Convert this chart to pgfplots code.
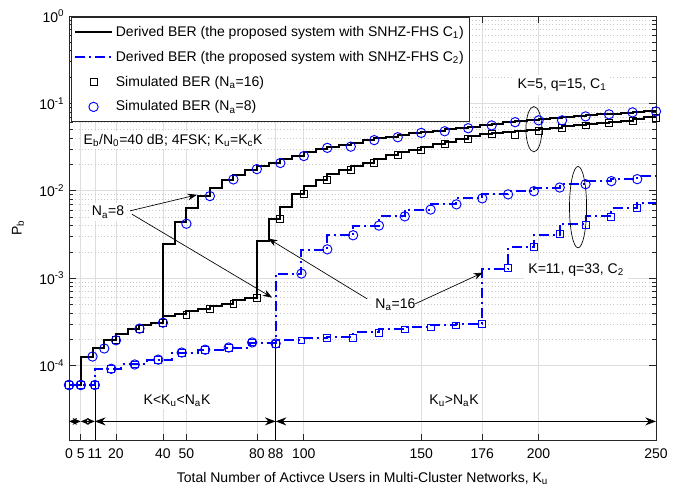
\documentclass[border=0pt]{standalone}
\usepackage{fontspec}
\setmainfont{Liberation Sans}
\usepackage{pgfplots}
\pgfplotsset{compat=1.18}
\usetikzlibrary{arrows.meta}

\definecolor{gridmaj}{RGB}{222,222,222}
\definecolor{gridmin}{RGB}{200,200,200}
\newcommand\ff{\fontsize{10.5pt}{12pt}\selectfont}
\newcommand\sub[1]{\textsubscript{#1}}

\begin{document}
\begin{tikzpicture}
\begin{axis}[
  scale only axis, width=440pt, height=318pt,
  xmin=0, xmax=250, ymin=1.4e-5, ymax=1, ymode=log,
  xtick={0,5,11,20,40,50,80,88,100,150,176,200,250},
  xticklabels={0,5,11,20,40,50,80,88,100,150,176,200,250},
  ytick={1e-4,1e-3,1e-2,1e-1,1},
  yticklabels={10\textsuperscript{-4},10\textsuperscript{-3},10\textsuperscript{-2},10\textsuperscript{-1},10\textsuperscript{0}},
  tick label style={font=\ff},
  xticklabel style={yshift=-3pt},
  label style={font=\ff},
  axis line style={black!85, line width=0.6pt},
  every tick/.style={black!85, line width=0.5pt},
  major tick length=5pt, minor tick length=3pt,
  grid=both,
  major grid style={gridmaj, line width=0.5pt},
  minor grid style={gridmin, dotted, line width=0.5pt},
  xlabel={Total Number of Activce Users in Multi-Cluster Networks, K\sub{u}},
  ylabel={P\sub{b}},
  xlabel style={at={(axis description cs:0.5,-0.09)}, anchor=center},
  ylabel style={at={(axis description cs:-0.087,0.5)}, anchor=center},
  legend image code/.code={\draw[mark repeat=2,mark phase=2,#1] plot coordinates {(0pt,0pt) (14pt,0pt) (28pt,0pt)};},
  legend style={at={(0.003,0.997)}, anchor=north west, draw=black!85, line width=0.6pt,
    font=\ff, row sep=5.5pt, inner xsep=2pt, inner ysep=4.5pt},
  legend cell align=left,
]
% derived BER, C1 (K=5), Na=8
\addplot[black, line width=1.5pt, const plot mark right, mark=none] coordinates {
 (0,6.0e-5) (5,6.0e-5) (10,1.27e-4) (15,1.57e-4) (20,1.95e-4) (25,2.3e-4) (30,2.6e-4) (35,2.9e-4) (40,3.05e-4)
 (45,2.45e-3) (50,4.4e-3) (55,6.4e-3) (60,8.8e-3) (65,1.07e-2) (70,1.32e-2) (75,1.5e-2) (80,1.75e-2)
 (85,1.92e-2) (90,2.08e-2) (95,2.3e-2) (100,2.5e-2) (105,2.75e-2) (110,3.0e-2) (115,3.15e-2) (120,3.3e-2)
 (125,3.55e-2) (130,3.8e-2) (135,4.0e-2) (140,4.15e-2) (145,4.35e-2) (150,4.55e-2) (155,4.7e-2) (160,4.85e-2)
 (165,5.05e-2) (170,5.2e-2) (175,5.4e-2) (180,5.6e-2) (185,5.85e-2) (190,6.05e-2) (195,6.25e-2) (200,6.4e-2)
 (205,6.6e-2) (210,6.75e-2) (215,6.95e-2) (220,7.1e-2) (225,7.3e-2) (230,7.5e-2) (235,7.65e-2) (240,7.85e-2)
 (245,7.95e-2) (250,8.1e-2)};
\addlegendentry{Derived BER (the proposed system with SNHZ-FHS C\sub{1})}
% derived BER, C2 (K=11), Na=8
\addplot[blue, line width=1.5pt, const plot mark right, mark=none, dash pattern=on 7.5pt off 3pt on 1.5pt off 3pt] coordinates {
 (0,6.0e-5) (11,6.0e-5) (22,9.2e-5) (33,1.03e-4) (44,1.17e-4) (55,1.41e-4) (66,1.52e-4) (77,1.61e-4) (88,1.8e-4)
 (99,1.13e-3) (110,2.1e-3) (121,3.1e-3) (132,4.0e-3) (143,5.1e-3) (154,6.1e-3) (165,7.0e-3) (176,8.2e-3)
 (187,9.1e-3) (198,9.9e-3) (209,1.09e-2) (220,1.19e-2) (231,1.29e-2) (242,1.36e-2) (250,1.47e-2)};
\addlegendentry{Derived BER (the proposed system with SNHZ-FHS C\sub{2})}
% simulated, Na=16, C1
\addplot[only marks, mark=square, mark size=2.6pt, mark options={black, line width=0.6pt}] coordinates {
 (0,6e-5) (5,6e-5) (20,1.95e-4) (30,2.6e-4) (40,3.05e-4) (50,3.85e-4) (60,4.5e-4) (70,5.1e-4) (80,6.0e-4)
 (90,4.8e-3) (100,9.3e-3) (110,1.32e-2) (120,1.72e-2) (130,2.07e-2) (140,2.55e-2) (150,2.9e-2) (160,3.4e-2)
 (170,3.9e-2) (180,4.5e-2) (190,4.4e-2) (200,4.85e-2) (210,5.2e-2) (220,5.6e-2) (230,5.95e-2) (240,6.3e-2) (250,6.9e-2)};
\addlegendentry{Simulated BER (N\sub{a}=16)}
% simulated, Na=8, C1
\addplot[only marks, mark=o, mark size=3.5pt, mark options={blue, line width=0.7pt}] coordinates {
 (0,6e-5) (5,6e-5) (10,1.27e-4) (15,1.57e-4) (20,1.95e-4) (30,2.65e-4) (40,3.1e-4) (50,4.2e-3) (60,8.7e-3)
 (70,1.35e-2) (80,1.77e-2) (90,2.08e-2) (100,2.5e-2) (110,3.1e-2) (120,3.2e-2) (130,3.8e-2) (140,4.1e-2)
 (150,4.6e-2) (160,4.8e-2) (170,5.2e-2) (180,5.6e-2) (190,6.1e-2) (200,6.4e-2) (210,6.4e-2) (220,7.1e-2)
 (230,7.5e-2) (240,7.9e-2) (250,8.1e-2)};
\addlegendentry{Simulated BER (N\sub{a}=8)}
% derived BER, C1, Na=16
\addplot[black, line width=1.5pt, const plot mark right, mark=none, forget plot] coordinates {
 (0,6.0e-5) (5,6.0e-5) (10,1.27e-4) (15,1.57e-4) (20,1.95e-4) (25,2.3e-4) (30,2.6e-4) (35,2.9e-4) (40,3.05e-4)
 (45,3.7e-4) (50,3.85e-4) (55,4.2e-4) (60,4.5e-4) (65,4.8e-4) (70,5.1e-4) (75,5.6e-4) (80,6.0e-4)
 (85,2.7e-3) (90,4.8e-3) (95,6.6e-3) (100,9.3e-3) (105,1.15e-2) (110,1.32e-2) (115,1.55e-2) (120,1.72e-2)
 (125,1.9e-2) (130,2.07e-2) (135,2.3e-2) (140,2.55e-2) (145,2.75e-2) (150,2.9e-2) (155,3.15e-2) (160,3.4e-2)
 (165,3.65e-2) (170,3.9e-2) (175,4.2e-2) (180,4.45e-2) (185,4.6e-2) (190,4.7e-2) (195,4.8e-2) (200,4.9e-2)
 (205,5.1e-2) (210,5.25e-2) (215,5.45e-2) (220,5.6e-2) (225,5.8e-2) (230,5.95e-2) (235,6.15e-2) (240,6.3e-2)
 (245,6.6e-2) (250,6.9e-2)};
% derived BER, C2, Na=16
\addplot[blue, line width=1.5pt, const plot mark right, mark=none, dash pattern=on 7.5pt off 3pt on 1.5pt off 3pt, forget plot] coordinates {
 (0,6.0e-5) (11,6.0e-5) (22,9.2e-5) (33,1.03e-4) (44,1.17e-4) (55,1.41e-4) (66,1.52e-4) (77,1.61e-4) (88,1.8e-4)
 (99,1.95e-4) (110,2.05e-4) (121,2.15e-4) (132,2.4e-4) (143,2.6e-4) (154,2.73e-4) (165,2.88e-4) (176,3.0e-4)
 (187,1.26e-3) (198,2.25e-3) (209,3.16e-3) (220,4.2e-3) (231,5.1e-3) (242,6.3e-3) (250,7.2e-3)};
% simulated, C2, Na=16 (squares)
\addplot[only marks, mark=square, mark size=2.6pt, mark options={blue, line width=0.7pt}, forget plot] coordinates {
 (0,6e-5) (5,6e-5) (11,6e-5) (18,9.2e-5) (28,1.03e-4) (38,1.17e-4) (48,1.41e-4) (58,1.52e-4) (68,1.61e-4)
 (78,1.84e-4) (88,1.79e-4) (99,1.94e-4) (110,2.05e-4) (121,2.09e-4) (132,2.39e-4) (143,2.59e-4) (154,2.73e-4)
 (165,2.88e-4) (176,3.03e-4) (187,1.3e-3) (198,2.3e-3) (209,3.2e-3) (220,4.1e-3) (231,5.0e-3) (242,6.4e-3)};
% simulated, C2, Na=8 (circles)
\addplot[only marks, mark=o, mark size=3.5pt, mark options={blue, line width=0.7pt}, forget plot] coordinates {
 (0,6e-5) (5,6e-5) (11,6e-5) (18,9.2e-5) (28,1.03e-4) (38,1.17e-4) (48,1.41e-4) (58,1.52e-4) (68,1.61e-4)
 (78,1.84e-4) (88,1.79e-4) (99,1.13e-3) (110,2.14e-3) (121,3.1e-3) (132,4.0e-3) (143,5.1e-3) (154,6.1e-3)
 (165,7.0e-3) (176,8.2e-3) (187,9.1e-3) (198,9.9e-3) (209,1.09e-2) (220,1.19e-2) (231,1.29e-2) (242,1.36e-2)};

% region markers
\draw[black, line width=0.5pt] (axis cs:11,1.4e-5) -- (axis cs:11,6e-5);
\draw[black, line width=0.5pt] (axis cs:88,1.4e-5) -- (axis cs:88,1.8e-4);
\draw[black, line width=0.9pt, {Stealth[length=6pt,width=5pt]}-{Stealth[length=6pt,width=5pt]}] (axis cs:0,2.3e-5) -- (axis cs:5,2.3e-5);
\draw[black, line width=0.9pt, {Stealth[length=6pt,width=5pt]}-{Stealth[length=6pt,width=5pt]}] (axis cs:5,2.3e-5) -- (axis cs:11,2.3e-5);
\draw[black, line width=0.9pt, {Stealth[length=8pt,width=6pt]}-{Stealth[length=8pt,width=6pt]}] (axis cs:11,2.3e-5) -- (axis cs:88,2.3e-5);
\draw[black, line width=0.9pt, {Stealth[length=8pt,width=6pt]}-{Stealth[length=8pt,width=6pt]}] (axis cs:88,2.3e-5) -- (axis cs:250,2.3e-5);
\node[fill=white, inner sep=2pt, font=\ff] at (axis cs:46,4.0e-5) {K<K\sub{u}<N\sub{a}K};
\node[fill=white, inner sep=2pt, font=\ff] at (axis cs:164,4.0e-5) {K\sub{u}>N\sub{a}K};

% annotations
\node[fill=white, anchor=west, inner sep=2pt, font=\ff] at (axis cs:5,3.8e-2) {E\sub{b}/N\sub{0}=40 dB; 4FSK; K\sub{u}=K\sub{c}K};
\node[fill=white, inner sep=3pt, font=\ff] at (axis cs:210,0.162) {K=5, q=15, C\sub{1}};
\node[fill=white, inner sep=3pt, font=\ff] at (axis cs:216,1.23e-3) {K=11, q=33, C\sub{2}};
\draw[black, line width=0.5pt] (axis cs:198,0.0507) ellipse [x radius=6pt, y radius=17pt];
\draw[black, line width=0.5pt] (axis cs:216.8,6.5e-3) ellipse [x radius=6.4pt, y radius=30.5pt];
\node[fill=white, inner sep=2pt, font=\ff] (n8) at (axis cs:16.6,5.7e-3) {N\sub{a}=8};
\node[fill=white, inner sep=2pt, font=\ff] (n16) at (axis cs:139,5.0e-4) {N\sub{a}=16};
\draw[black, line width=0.5pt, -{Stealth[length=7pt,width=5pt]}] (axis cs:26,5.9e-3) -- (axis cs:54.5,9.0e-3);
\draw[black, line width=0.5pt, -{Stealth[length=7pt,width=5pt]}] (axis cs:26.8,5.4e-3) -- (axis cs:86.5,6.0e-4);
\draw[black, line width=0.5pt, -{Stealth[length=7pt,width=5pt]}] (axis cs:127,5.8e-4) -- (axis cs:84.8,2.85e-3);
\draw[black, line width=0.5pt, -{Stealth[length=7pt,width=5pt]}] (axis cs:147.5,5.1e-4) -- (axis cs:176.3,1.16e-3);
\end{axis}
\pgfresetboundingbox
\useasboundingbox ([shift={(-51.75pt,-38.25pt)}]current axis.south west) rectangle ([shift={(16.5pt,12pt)}]current axis.north east);
\end{tikzpicture}
\end{document}
